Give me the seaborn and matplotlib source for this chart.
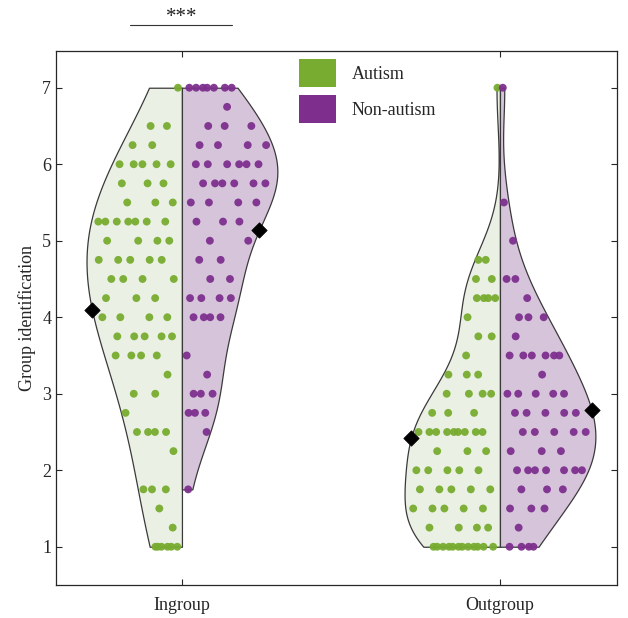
import numpy as np
import pandas as pd
import matplotlib
matplotlib.use("Agg")
import matplotlib.pyplot as plt
import seaborn as sns
from matplotlib.patches import Patch

# ---------------- data (value levels and how many participants gave each) ----------------
groups = ["Ingroup", "Outgroup"]
conditions = ["Autism", "Non-autism"]

ingroup_autism_values = [7.0, 6.5, 6.25, 6.0, 5.75, 5.5, 5.25, 5.0, 4.75, 4.5, 4.25, 4.0,
                         3.75, 3.5, 3.25, 3.0, 2.75, 2.5, 2.25, 1.75, 1.5, 1.25, 1.0]
ingroup_autism_counts = [1, 2, 2, 5, 3, 3, 7, 4, 5, 4, 3, 4,
                         5, 4, 1, 2, 1, 4, 1, 3, 1, 1, 6]

ingroup_nonautism_values = [7.0, 6.75, 6.5, 6.25, 6.0, 5.75, 5.5, 5.25, 5.0, 4.75, 4.5, 4.25,
                            4.0, 3.5, 3.25, 3.0, 2.75, 2.5, 1.75]
ingroup_nonautism_counts = [7, 1, 3, 4, 6, 6, 4, 3, 2, 2, 2, 4,
                            4, 1, 1, 3, 3, 1, 1]

outgroup_autism_values = [7.0, 4.75, 4.5, 4.25, 4.0, 3.75, 3.5, 3.25, 3.0, 2.75, 2.5, 2.25,
                          2.0, 1.75, 1.5, 1.25, 1.0]
outgroup_autism_counts = [1, 2, 2, 4, 1, 2, 1, 3, 4, 3, 9, 3,
                          5, 5, 5, 4, 12]

outgroup_nonautism_values = [7.0, 5.5, 5.0, 4.5, 4.25, 4.0, 3.75, 3.5, 3.25, 3.0, 2.75, 2.5,
                             2.25, 2.0, 1.75, 1.5, 1.25, 1.0]
outgroup_nonautism_counts = [1, 1, 1, 2, 1, 3, 1, 6, 1, 5, 5, 5,
                             3, 7, 3, 3, 1, 4]

y_ticks = [1, 2, 3, 4, 5, 6, 7]
y_label = "Group identification"
significance = "***"

# ---------------- build long table ----------------
series = [
    ("Ingroup", "Autism", ingroup_autism_values, ingroup_autism_counts),
    ("Ingroup", "Non-autism", ingroup_nonautism_values, ingroup_nonautism_counts),
    ("Outgroup", "Autism", outgroup_autism_values, outgroup_autism_counts),
    ("Outgroup", "Non-autism", outgroup_nonautism_values, outgroup_nonautism_counts),
]
rows = []
for g, c, vals, cnts in series:
    for v in np.repeat(vals, cnts):
        rows.append({"group": g, "condition": c, "score": float(v)})
df = pd.DataFrame(rows)

# kernel smoothing per half-violin (style)
bw_adjust = {("Ingroup", "Autism"): 1.55, ("Ingroup", "Non-autism"): 1.0,
             ("Outgroup", "Autism"): 1.0, ("Outgroup", "Non-autism"): 0.95}

# ---------------- style ----------------
sns.set_style("ticks")
plt.rcParams["font.family"] = ["Liberation Serif", "DejaVu Serif"]
plt.rcParams["font.size"] = 13

green = "#77AC30"
purple = "#7E2F8E"
light = {"Autism": "#ECF2E2", "Non-autism": "#D8C1DE"}
dark = {"Autism": green, "Non-autism": purple}

fig = plt.figure(figsize=(6.28, 6.18), dpi=100)
ax = fig.add_axes([56 / 628, 33 / 618, 561 / 628, 534 / 618])

for g, c, _, _ in series:
    sub = df[(df.group == g) & (df.condition == c)]
    sns.violinplot(data=sub, x="group", y="score", hue="condition", order=groups,
                   hue_order=conditions, split=True, dodge=True, inner=None, cut=0,
                   density_norm="width", width=0.6, palette=light,
                   bw_adjust=bw_adjust[(g, c)], gridsize=200,
                   linecolor="#3a3a3a", linewidth=0.9, legend=False, ax=ax)

# violin outlines from the drawn collections
edges = {}
for coll in ax.collections:
    paths = coll.get_paths()
    if not paths:
        continue
    v = paths[0].vertices
    center = float(np.round(np.median(v[:, 0])))
    side = -1 if v[:, 0].mean() < center else 1
    e = v[np.abs(v[:, 0] - center) > 1e-9]
    o = np.argsort(e[:, 1])
    edges[(int(center), side)] = (center, e[o, 1], e[o, 0])

# dots jittered inside each half violin (deterministic low-discrepancy jitter)
dot_x, dot_y, dot_c = [], [], []
mean_x, mean_y = [], []
phi = 0.6180339887
for g, c, vals, cnts in series:
    gi = groups.index(g)
    side = -1 if c == "Autism" else 1
    center, ey, ex = edges[(gi, side)]
    ys = df.loc[(df.group == g) & (df.condition == c), "score"].to_numpy()
    w = np.abs(np.interp(ys, ey, ex) - center)
    k = np.arange(len(ys))
    u = 0.05 + 0.9 * ((k * phi + 0.31 * gi + 0.17 * (side + 1)) % 1.0)
    xs = center + side * (0.008 + u * np.maximum(w - 0.012, 0))
    dot_x += list(xs)
    dot_y += list(ys)
    dot_c += [c] * len(ys)
    m = ys.mean()
    mean_x.append(np.interp(m, ey, ex))
    mean_y.append(m)

dots = pd.DataFrame({"x": dot_x, "y": dot_y, "condition": dot_c})
sns.scatterplot(data=dots, x="x", y="y", hue="condition", palette=dark,
                s=32, edgecolor="none", alpha=0.95, legend=False, ax=ax, zorder=3)

means = pd.DataFrame({"x": mean_x, "y": mean_y})
sns.scatterplot(data=means, x="x", y="y", color="black", marker="D", s=60,
                edgecolor="black", legend=False, ax=ax, zorder=4)

# ---------------- axes ----------------
ax.set_xlim(-0.396, 1.368)
ax.set_ylim(0.5, 7.48)
ax.set_yticks(y_ticks)
ax.set_xticks([0, 1])
ax.set_xticklabels(groups)
ax.set_xlabel("")
ax.set_ylabel(y_label, fontsize=13)
for s in ax.spines.values():
    s.set_visible(True)
    s.set_color("#262626")
    s.set_linewidth(0.9)
ax.tick_params(direction="in", length=4, width=0.8, top=True, right=True,
               labelsize=13, colors="#262626")
ax.tick_params(axis="x", pad=9)

# significance marker above the Ingroup pair
ax.plot([-0.163, 0.157], [7.82, 7.82], color="#333333", lw=0.8, clip_on=False)
ax.text(0, 7.79, significance, ha="center", va="bottom", fontsize=15, color="#222222")

# legend
handles = [Patch(facecolor=dark[c], edgecolor="none", label=c) for c in conditions]
ax.legend(handles=handles, loc="upper left", bbox_to_anchor=(0.434, 0.985),
          frameon=False, handlelength=2.0, handleheight=2.0, handletextpad=0.9,
          labelspacing=0.45, borderpad=0, borderaxespad=0, fontsize=13)

fig.savefig("out.png", dpi=100)
